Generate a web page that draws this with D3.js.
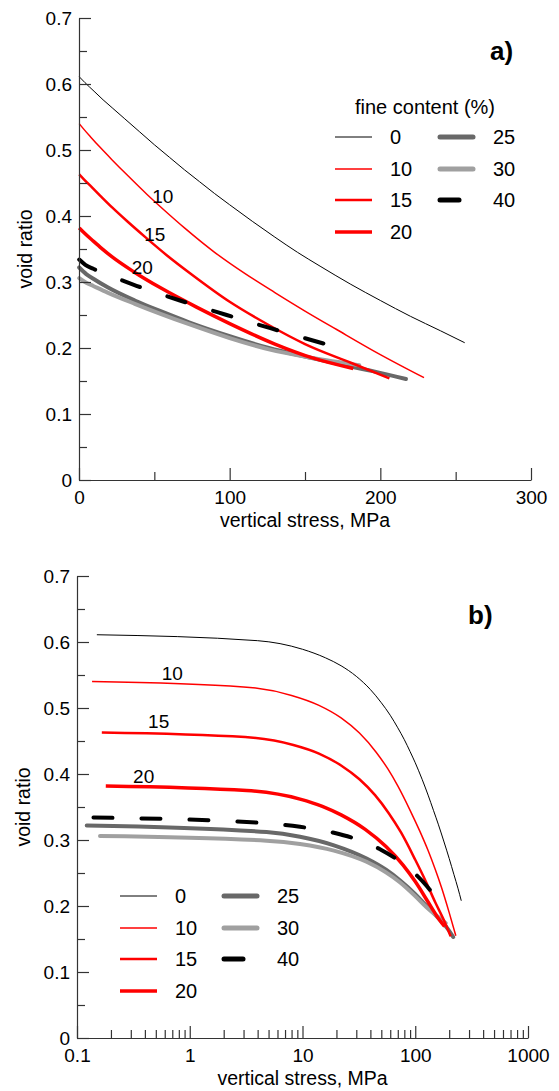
<!DOCTYPE html>
<html>
<head>
<meta charset="utf-8">
<title>void ratio vs vertical stress</title>
<style>
  body { margin: 0; background: #fff; }
  svg { display: block; font-family: "Liberation Sans", Arial, sans-serif; }
</style>
</head>
<body>
<svg></svg>
<script src="https://d3js.org/d3.v7.min.js"></script>
<script>
// fine content (%) series
const fines = ["0", "10", "15", "20", "25", "30", "40"];

const stress0 = [0.15, 4, 10, 16, 22, 30, 40, 50, 60, 70, 80, 90, 100, 115, 130, 145, 160, 180, 200, 220, 240, 256];
const ratio0  = [0.611, 0.602, 0.589, 0.576, 0.564, 0.548, 0.528, 0.508, 0.489, 0.470, 0.452, 0.434, 0.417, 0.392, 0.368, 0.345, 0.324, 0.297, 0.272, 0.248, 0.226, 0.208];

const stress10 = [0.136, 3, 8, 14, 22, 32, 45, 57, 70, 90, 110, 130, 150, 171, 200, 229];
const ratio10  = [0.540, 0.532, 0.519, 0.504, 0.485, 0.462, 0.433, 0.408, 0.382, 0.345, 0.313, 0.284, 0.256, 0.228, 0.190, 0.155];

const stress15 = [0.166, 3.1, 8.3, 14, 22, 32, 44, 58, 75, 100, 125, 150, 180, 206];
const ratio15  = [0.463, 0.456, 0.444, 0.431, 0.413, 0.392, 0.368, 0.341, 0.311, 0.270, 0.236, 0.206, 0.178, 0.154];

const stress20 = [0.18, 3.2, 9.5, 15, 22, 36, 55, 78, 100, 130, 155, 182];
const ratio20  = [0.382, 0.375, 0.362, 0.351, 0.338, 0.316, 0.290, 0.262, 0.237, 0.206, 0.185, 0.169];

const stress25 = [0.122, 4.8, 9.5, 19, 37, 55, 73, 100, 126, 150, 170, 195, 217];
const ratio25  = [0.322, 0.312, 0.305, 0.292, 0.272, 0.255, 0.239, 0.218, 0.200, 0.187, 0.177, 0.165, 0.153];

const stress30 = [0.16, 4.8, 9.5, 19, 37, 55, 73, 100, 126, 155, 186];
const ratio30  = [0.306, 0.299, 0.294, 0.284, 0.267, 0.251, 0.236, 0.215, 0.198, 0.185, 0.174];

const stress40 = [0.14, 4.2, 9.5, 19, 28, 36, 50, 67, 98, 127, 165];
const ratio40  = [0.334, 0.326, 0.320, 0.311, 0.303, 0.296, 0.285, 0.272, 0.250, 0.230, 0.205];

// ticks
const yMajor = [0, 0.1, 0.2, 0.3, 0.4, 0.5, 0.6, 0.7];
const yMinor = [0.05, 0.15, 0.25, 0.35, 0.45, 0.55, 0.65];
const xLinMajor = [0, 100, 200, 300];
const xLinMinor = [50, 150, 250];
const xLogMajor = [0.1, 1, 10, 100, 1000];

// curve labels in data coords [text, stress, ratio]
const labelsA = [["10", 55.6, 0.420], ["15", 50.3, 0.362], ["20", 42, 0.312]];
const labelsB = [["10", 0.70, 0.543], ["15", 0.53, 0.470], ["20", 0.39, 0.386]];

const stressData = [stress0, stress10, stress15, stress20, stress25, stress30, stress40];
const ratioData  = [ratio0, ratio10, ratio15, ratio20, ratio25, ratio30, ratio40];

const series = fines.map((f, i) => ({
  name: f,
  pts: stressData[i].map((s, j) => [s, ratioData[i][j]])
}));

// line styles
const style = {
  "0":  { color: "#000", width: 1, cap: "butt" },
  "10": { color: "#ff0000", width: 1.5, cap: "butt" },
  "15": { color: "#ff0000", width: 2.5, cap: "butt" },
  "20": { color: "#ff0000", width: 3.5, cap: "butt" },
  "25": { color: "#686868", width: 4, cap: "round" },
  "30": { color: "#a0a0a0", width: 4, cap: "round" },
  "40": { color: "#000", width: 4, cap: "round", dash: "19,29" }
};
const drawOrder = ["25", "30", "0", "10", "15", "20", "40"];

const W = 559, H = 1091;
const svg = d3.select("svg").attr("width", W).attr("height", H);

const fmtY = d => d === 0 ? "0" : d3.format(".1f")(d);

function panel(cfg) {
  const g = svg.append("g");
  const x = cfg.x, y = cfg.y;

  // curves
  const line = d3.line()
    .x(d => x(d[0]))
    .y(d => y(d[1]))
    .curve(d3.curveMonotoneX);

  drawOrder.forEach(name => {
    const s = series.find(d => d.name === name);
    const st = style[name];
    g.append("path")
      .attr("d", line(s.pts))
      .attr("fill", "none")
      .attr("stroke", st.color)
      .attr("stroke-width", st.width)
      .attr("stroke-linecap", st.cap)
      .attr("stroke-linejoin", "round")
      .attr("stroke-dasharray", st.dash || null);
  });

  // y axis
  const y0 = x.range()[0];
  const yAx = g.append("g").attr("transform", `translate(${y0},0)`);
  yAx.call(d3.axisLeft(y).tickValues(yMajor).tickFormat(fmtY)
    .tickSizeInner(-12).tickSizeOuter(0).tickPadding(7));
  yAx.append("g").call(d3.axisLeft(y).tickValues(yMinor).tickFormat("")
    .tickSizeInner(-8).tickSizeOuter(0)).select(".domain").remove();

  // x axis
  const xb = y.range()[0];
  const xAx = g.append("g").attr("transform", `translate(0,${xb})`);
  xAx.call(d3.axisBottom(x).tickValues(cfg.xMajor).tickFormat(cfg.xFmt)
    .tickSizeInner(-12).tickSizeOuter(0).tickPadding(11));
  xAx.append("g").call(d3.axisBottom(x).tickValues(cfg.xMinor).tickFormat("")
    .tickSizeInner(-8).tickSizeOuter(0)).select(".domain").remove();

  g.selectAll(".domain, .tick line").attr("stroke", "#333").attr("stroke-width", 1.2);
  g.selectAll(".tick text").attr("font-size", 19).attr("fill", "#000")
    .attr("font-family", "Liberation Sans, Arial, sans-serif");

  // axis titles
  const xr = x.range();
  g.append("text")
    .attr("x", (xr[0] + xr[1]) / 2).attr("y", xb + 47)
    .attr("text-anchor", "middle").attr("font-size", 19.5)
    .text("vertical stress, MPa");
  const yr = y.range();
  g.append("text")
    .attr("transform", `translate(${xr[0] - 47},${(yr[0] + yr[1]) / 2}) rotate(-90)`)
    .attr("text-anchor", "middle").attr("font-size", 19.5)
    .text("void ratio");

  // panel tag
  g.append("text")
    .attr("x", cfg.tag[1]).attr("y", cfg.tag[2])
    .attr("font-size", 26).attr("font-weight", "bold")
    .text(cfg.tag[0]);

  // curve labels
  g.selectAll(".clab").data(cfg.labels).enter().append("text")
    .attr("x", d => x(d[1])).attr("y", d => y(d[2]))
    .attr("text-anchor", "middle").attr("font-size", 19)
    .text(d => d[0]);

  // legend
  const lg = cfg.legend;
  const leg = g.append("g");
  if (lg.title) {
    leg.append("text").attr("x", lg.title[0]).attr("y", lg.title[1])
      .attr("text-anchor", "middle").attr("font-size", 20)
      .text("fine content (%)");
  }
  fines.forEach((f, i) => {
    const col = i < 4 ? 0 : 1;
    const row = i < 4 ? i : i - 4;
    const lx = lg.cols[col], ly = lg.rows[row];
    const st = style[f];
    leg.append("line")
      .attr("x1", lx + (st.cap === "round" ? 2 : 0)).attr("x2", lx + 37 - (st.cap === "round" ? 2 : 0))
      .attr("y1", ly).attr("y2", ly)
      .attr("stroke", st.color).attr("stroke-width", st.width === 4 ? 5 : st.width)
      .attr("stroke-linecap", st.cap)
      .attr("stroke-dasharray", st.dash || null);
    leg.append("text")
      .attr("x", lx + lg.textOff).attr("y", ly).attr("dy", "0.35em")
      .attr("font-size", 20)
      .text(f);
  });
}

// a) linear
panel({
  x: d3.scaleLinear().domain([0, 300]).range([79, 531]),
  y: d3.scaleLinear().domain([0, 0.7]).range([480, 18]),
  xMajor: xLinMajor, xMinor: xLinMinor, xFmt: d3.format("d"),
  tag: ["a)", 490, 60],
  labels: labelsA,
  legend: { title: [425, 114], cols: [335, 438], rows: [137, 169, 200, 232], textOff: 55 }
});

// b) log
const minorLog = [];
[0.1, 1, 10, 100].forEach(dec => { for (let k = 2; k <= 9; k++) minorLog.push(dec * k); });
panel({
  x: d3.scaleLog().domain([0.1, 1000]).range([77, 528]),
  y: d3.scaleLinear().domain([0, 0.7]).range([1038, 576]),
  xMajor: xLogMajor, xMinor: minorLog, xFmt: d => String(d),
  tag: ["b)", 468, 624],
  labels: labelsB,
  legend: { title: null, cols: [120, 222], rows: [896, 928, 959, 991], textOff: 55 }
});
</script>
</body>
</html>
